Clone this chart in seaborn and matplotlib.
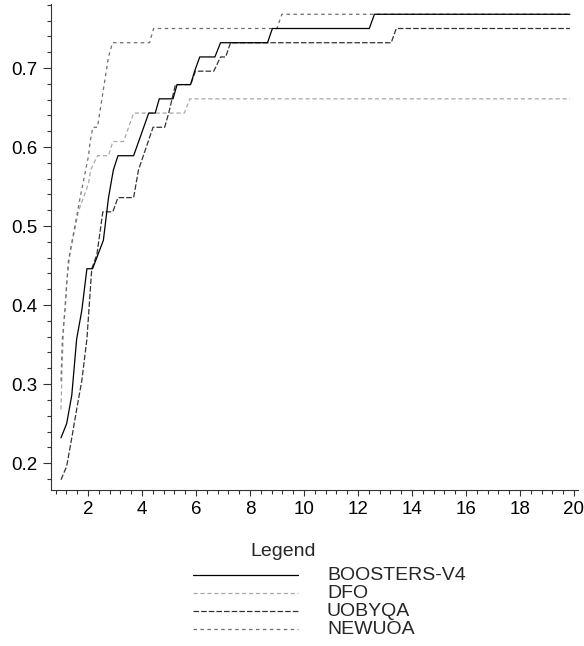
import numpy as np
import pandas as pd
import matplotlib
matplotlib.use("Agg")
import matplotlib.pyplot as plt
from matplotlib.lines import Line2D
from matplotlib.ticker import MultipleLocator
import seaborn as sns

# performance profile values
boosters_x = [1.0, 1.21, 1.40, 1.58, 1.77, 1.96, 2.17, 2.57, 2.76, 2.94, 3.11, 3.69, 4.25, 4.49, 4.64,
              5.15, 5.30, 5.80, 5.95, 6.14, 6.70, 6.91, 8.65, 8.83, 12.42, 12.61, 19.85]
boosters_y = [0.232, 0.250, 0.286, 0.357, 0.393, 0.446, 0.446, 0.482, 0.536, 0.571, 0.589, 0.589, 0.643, 0.643, 0.661,
              0.661, 0.679, 0.679, 0.696, 0.714, 0.714, 0.732, 0.732, 0.750, 0.750, 0.768, 0.768]

dfo_x = [1.0, 1.04, 1.10, 1.21, 1.33, 1.64, 2.02, 2.10, 2.35, 2.76, 2.92, 3.32, 3.69, 5.57, 5.77, 19.85]
dfo_y = [0.268, 0.321, 0.375, 0.429, 0.464, 0.518, 0.554, 0.571, 0.589, 0.589, 0.607, 0.607, 0.643, 0.643, 0.661, 0.661]

uobyqa_x = [1.0, 1.21, 1.40, 1.58, 1.77, 1.96, 2.14, 2.33, 2.55, 2.92, 3.11, 3.69, 3.87, 4.41, 4.84, 4.99,
            5.24, 5.80, 5.98, 6.66, 6.91, 7.10, 7.28, 13.23, 13.42, 19.85]
uobyqa_y = [0.179, 0.196, 0.232, 0.268, 0.304, 0.357, 0.446, 0.464, 0.518, 0.518, 0.536, 0.536, 0.571, 0.625, 0.625, 0.643,
            0.679, 0.679, 0.696, 0.696, 0.714, 0.714, 0.732, 0.732, 0.750, 0.750]

newuoa_x = [1.0, 1.05, 1.15, 1.27, 1.71, 2.02, 2.08, 2.18, 2.35, 2.76, 2.91, 4.28, 4.43, 9.00, 9.18, 19.85]
newuoa_y = [0.304, 0.357, 0.393, 0.455, 0.536, 0.589, 0.607, 0.625, 0.625, 0.714, 0.732, 0.732, 0.750, 0.750, 0.768, 0.768]

solvers = ["BOOSTERS-V4", "DFO", "UOBYQA", "NEWUOA"]
colors = {"BOOSTERS-V4": "black", "DFO": "#a8a8a8", "UOBYQA": "#333333", "NEWUOA": "#6e6e6e"}
dashes = {"BOOSTERS-V4": "", "DFO": (3, 2), "UOBYQA": (4, 1.5), "NEWUOA": (2.5, 2.5)}

df = pd.concat([
    pd.DataFrame({"tau": boosters_x, "rho": boosters_y, "solver": "BOOSTERS-V4"}),
    pd.DataFrame({"tau": dfo_x, "rho": dfo_y, "solver": "DFO"}),
    pd.DataFrame({"tau": uobyqa_x, "rho": uobyqa_y, "solver": "UOBYQA"}),
    pd.DataFrame({"tau": newuoa_x, "rho": newuoa_y, "solver": "NEWUOA"}),
])

sns.set_style("ticks")
plt.rcParams["font.family"] = ["Liberation Sans", "DejaVu Sans"]
plt.rcParams["lines.scale_dashes"] = False

W, H = 584, 646
fig = plt.figure(figsize=(W / 100, H / 100), dpi=100)
ax = fig.add_axes([51 / W, 1 - 490 / H, 527 / W, 486 / H])

# draw back to front so the solid line sits on top
for s in ["DFO", "UOBYQA", "NEWUOA", "BOOSTERS-V4"]:
    sns.lineplot(data=df[df.solver == s], x="tau", y="rho", ax=ax, color=colors[s],
                 linewidth=0.9, legend=False, estimator=None, sort=False,
                 linestyle="-" if dashes[s] == "" else (0, dashes[s]))

ax.set_xlim(0.63, 20.15)
ax.set_ylim(0.166, 0.781)
ax.set_xlabel("")
ax.set_ylabel("")

ax.xaxis.set_major_locator(MultipleLocator(2))
ax.xaxis.set_minor_locator(MultipleLocator(0.4))
ax.yaxis.set_major_locator(MultipleLocator(0.1))
ax.yaxis.set_minor_locator(MultipleLocator(0.02))

sns.despine(ax=ax)
for side in ["left", "bottom"]:
    ax.spines[side].set_color("#333333")
    ax.spines[side].set_linewidth(0.8)

ax.tick_params(axis="both", which="both", direction="out", color="#333333", width=0.8,
               labelsize=13.5, labelcolor="black", bottom=True, left=True, top=False, right=False)
ax.tick_params(axis="y", which="major", length=6, pad=4)
ax.tick_params(axis="y", which="minor", length=3)
ax.tick_params(axis="x", which="major", length=4.5)
ax.tick_params(axis="x", which="minor", length=3)

# legend block under the plot
fig.text(283 / W, 1 - 552 / H, "Legend", ha="center", va="center", fontsize=14)
rows = [575, 593, 611, 629]
for s, yy in zip(solvers, rows):
    yf = 1 - yy / H
    fig.add_artist(Line2D([193 / W, 298 / W], [yf, yf], transform=fig.transFigure,
                          color=colors[s], linewidth=0.9,
                          linestyle="-" if dashes[s] == "" else (0, dashes[s])))
    fig.text(327 / W, yf, s, ha="left", va="center", fontsize=14)

fig.savefig("out.png", dpi=100)
